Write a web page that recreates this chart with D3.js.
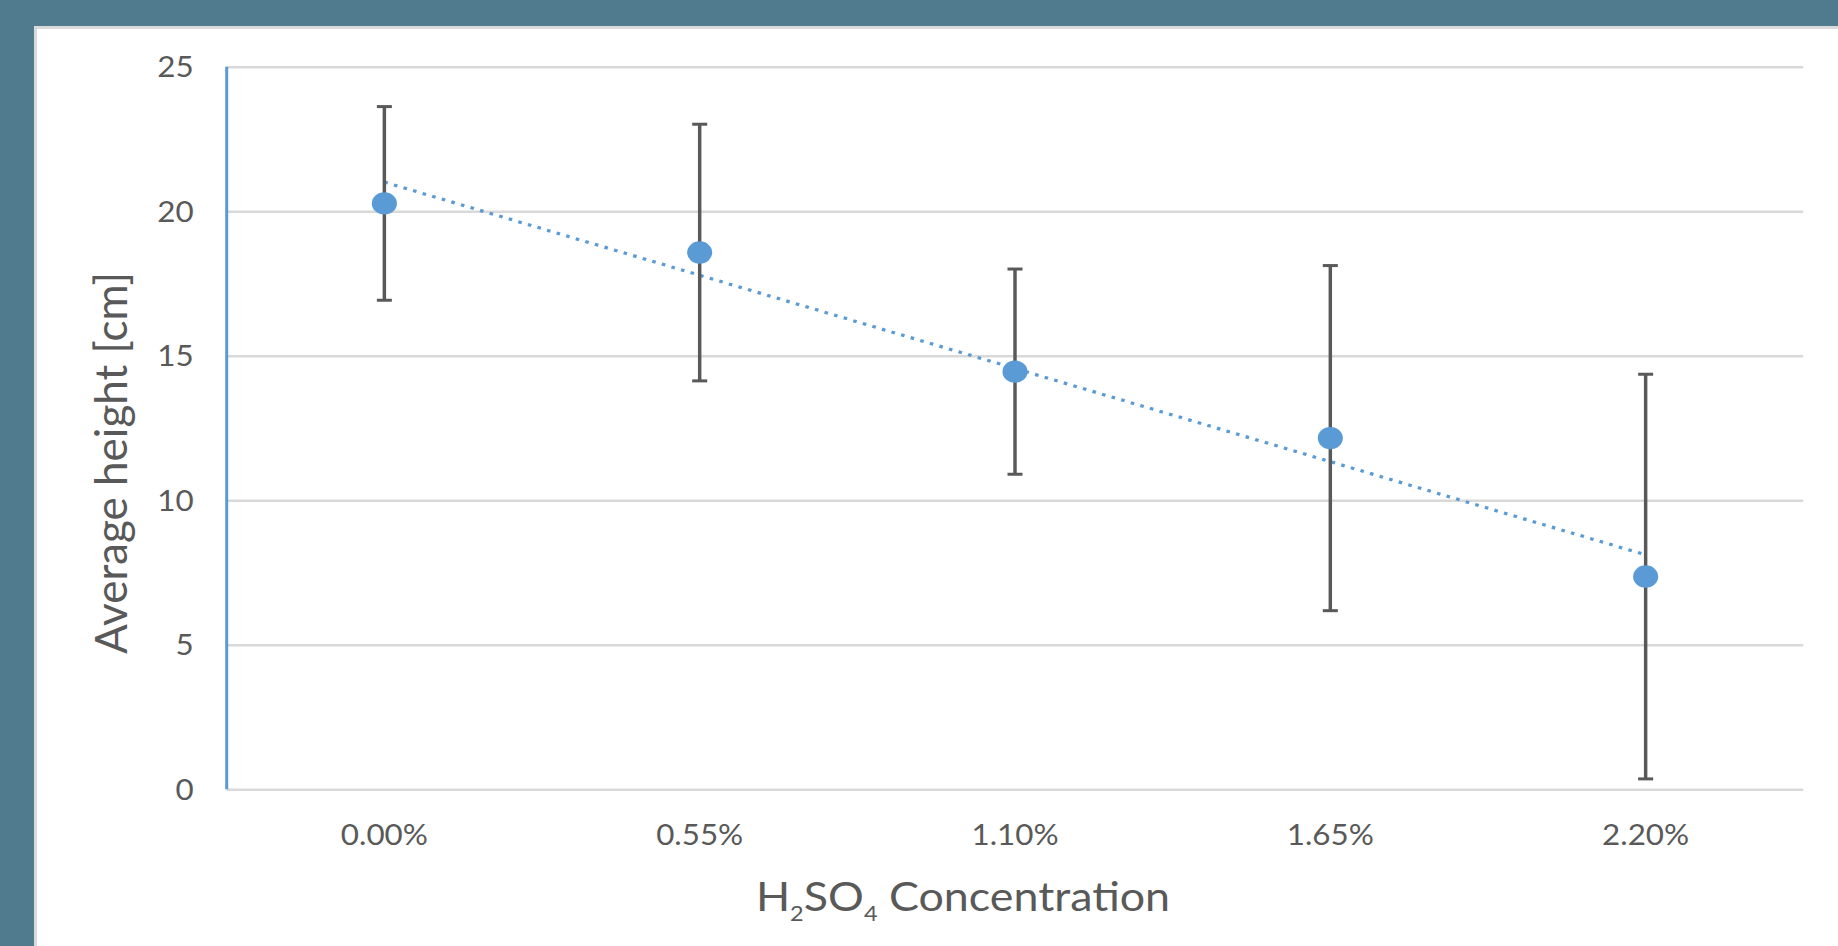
<!DOCTYPE html>
<html>
<head>
<meta charset="utf-8">
<script src="https://cdn.jsdelivr.net/npm/d3@7"></script>
<style>
  html, body { margin: 0; padding: 0; background: #507a8e; overflow: hidden; }
  svg { display: block; }
  text { font-family: Lato, "Open Sans", sans-serif; fill: #595959; }
</style>
</head>
<body>
<svg id="chart"></svg>
<script>
// chart values
const concentrations = ["0.00%", "0.55%", "1.10%", "1.65%", "2.20%"];
const avgHeight = [20.27, 18.57, 14.45, 12.15, 7.36];
const errorAmount = [3.35, 4.44, 3.55, 5.97, 7.0];
const yTicks = [0, 5, 10, 15, 20, 25];

// the original picture is stretched sideways, so draw in a narrower
// space and let the viewBox widen it
const sx = 1.12;
const fullW = 1838, fullH = 946;
const W = fullW / sx, H = fullH;
const X = v => v / sx;

const plot = { left: X(226.7), right: X(1803.3), top: 66.7, bottom: 789.3 };

const svg = d3.select('#chart')
  .attr('width', fullW)
  .attr('height', fullH)
  .attr('viewBox', `0 0 ${W} ${H}`)
  .attr('preserveAspectRatio', 'none');

// white panel with its light border
svg.append('rect')
  .attr('x', X(34)).attr('y', 26)
  .attr('width', W).attr('height', H)
  .attr('fill', '#d9d9d9');
svg.append('rect')
  .attr('x', X(37)).attr('y', 29)
  .attr('width', W).attr('height', H)
  .attr('fill', '#ffffff');

const x = d3.scaleBand()
  .domain(concentrations)
  .range([plot.left, plot.right]);

const y = d3.scaleLinear()
  .domain([0, 25])
  .range([plot.bottom, plot.top]);

// gridlines + y labels
const yAxis = svg.append('g')
  .attr('transform', `translate(${plot.left},0)`)
  .call(d3.axisLeft(y)
    .tickValues(yTicks)
    .tickSize(-(plot.right - plot.left))
    .tickPadding(X(33)));
yAxis.select('.domain').remove();
yAxis.selectAll('.tick line')
  .attr('stroke', '#d9d9d9')
  .attr('stroke-width', 2.5);
yAxis.selectAll('.tick text')
  .attr('font-size', 28)
  .attr('dy', '0.36em')
  .style('fill', '#595959');

// blue vertical axis line
svg.append('line')
  .attr('x1', plot.left).attr('x2', plot.left)
  .attr('y1', y(25)).attr('y2', y(0))
  .attr('stroke', '#5b9bd5')
  .attr('stroke-width', 2.7);

// x labels
const xAxis = svg.append('g')
  .attr('transform', `translate(0,${plot.bottom})`)
  .call(d3.axisBottom(x).tickSize(0).tickPadding(0));
xAxis.select('.domain').remove();
xAxis.selectAll('.tick text')
  .attr('font-size', 28)
  .attr('y', 56)
  .attr('dy', 0)
  .style('fill', '#595959');

const cx = d => x(d) + x.bandwidth() / 2;

// linear trendline, Excel style
const n = avgHeight.length;
const mx = d3.mean(d3.range(n));
const my = d3.mean(avgHeight);
const slope = d3.sum(d3.range(n), i => (i - mx) * (avgHeight[i] - my)) /
  d3.sum(d3.range(n), i => (i - mx) * (i - mx));
const trend = i => my + slope * (i - mx);

svg.append('line')
  .attr('x1', cx(concentrations[0]))
  .attr('y1', y(trend(0)))
  .attr('x2', cx(concentrations[n - 1]))
  .attr('y2', y(trend(n - 1)))
  .attr('stroke', '#5b9bd5')
  .attr('stroke-width', 3.2)
  .attr('stroke-dasharray', '3.2,5.8');

// error bars
const bars = svg.append('g')
  .selectAll('g')
  .data(concentrations)
  .enter().append('g')
  .attr('stroke', '#595959');

bars.append('line')
  .attr('x1', d => cx(d)).attr('x2', d => cx(d))
  .attr('y1', (d, i) => y(avgHeight[i] + errorAmount[i]))
  .attr('y2', (d, i) => y(avgHeight[i] - errorAmount[i]))
  .attr('stroke-width', 3.1);

[1, -1].forEach(sign => {
  bars.append('line')
    .attr('x1', d => cx(d) - 6.7).attr('x2', d => cx(d) + 6.7)
    .attr('y1', (d, i) => y(avgHeight[i] + sign * errorAmount[i]))
    .attr('y2', (d, i) => y(avgHeight[i] + sign * errorAmount[i]))
    .attr('stroke-width', 3);
});

// markers
svg.append('g')
  .selectAll('circle')
  .data(concentrations)
  .enter().append('circle')
  .attr('cx', d => cx(d))
  .attr('cy', (d, i) => y(avgHeight[i]))
  .attr('r', 11.2)
  .attr('fill', '#5b9bd5');

// axis titles
const xTitle = svg.append('text')
  .attr('x', X(963))
  .attr('y', 911)
  .attr('text-anchor', 'middle')
  .attr('font-size', 40);
xTitle.append('tspan').text('H');
xTitle.append('tspan').attr('font-size', 21).attr('dy', 10).text('2');
xTitle.append('tspan').attr('dy', -10).text('SO');
xTitle.append('tspan').attr('font-size', 21).attr('dy', 10).text('4');
xTitle.append('tspan').attr('dy', -10).text(' Concentration');

svg.append('text')
  .attr('transform', `translate(${X(127)},463) rotate(-90)`)
  .attr('text-anchor', 'middle')
  .attr('font-size', 39)
  .attr('textLength', 382)
  .attr('lengthAdjust', 'spacingAndGlyphs')
  .text('Average height [cm]');
</script>
</body>
</html>
